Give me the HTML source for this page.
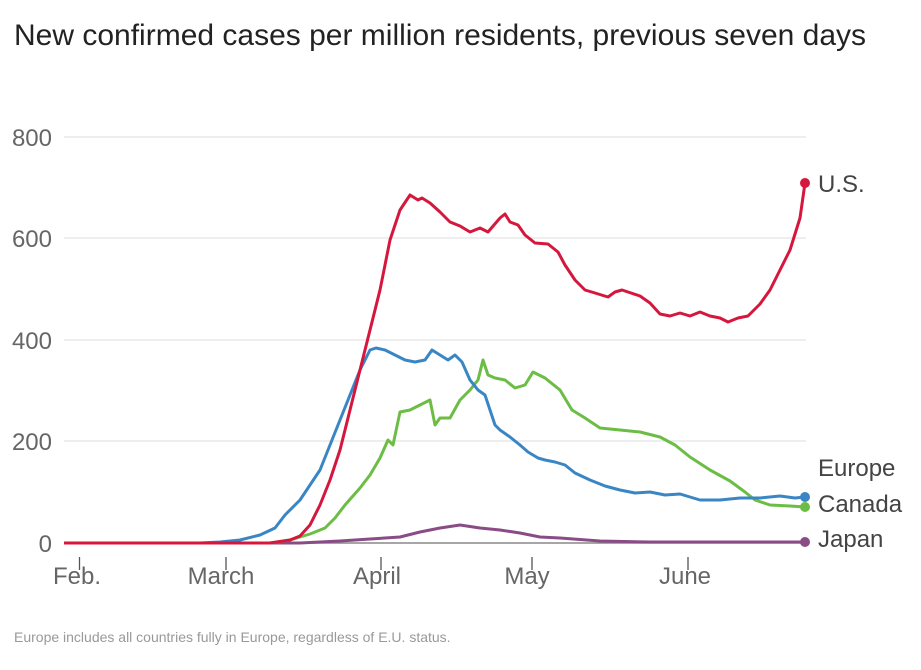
<!DOCTYPE html>
<html><head><style>
body{margin:0;background:#fff;}
svg text{font-family:"Liberation Sans",sans-serif;}
</style></head><body>
<svg width="921" height="665" xmlns="http://www.w3.org/2000/svg">
<text x="14" y="45" font-size="30" fill="#222">New confirmed cases per million residents, previous seven days</text>
<g stroke="#ddd" stroke-width="1">
<line x1="64" y1="137" x2="806" y2="137"/><line x1="64" y1="238" x2="806" y2="238"/><line x1="64" y1="340" x2="806" y2="340"/><line x1="64" y1="441" x2="806" y2="441"/>
</g>
<line x1="64" y1="543" x2="806" y2="543" stroke="#888" stroke-width="1.5"/>
<g fill="#666" font-size="24" text-anchor="end">
<text x="52" y="146">800</text><text x="52" y="247">600</text><text x="52" y="349">400</text><text x="52" y="450">200</text><text x="52" y="552">0</text>
</g>
<g stroke="#555" stroke-width="1.3">
<line x1="79.5" y1="557" x2="79.5" y2="570"/><line x1="226" y1="557" x2="226" y2="570"/><line x1="381" y1="557" x2="381" y2="570"/><line x1="532" y1="557" x2="532" y2="570"/><line x1="688" y1="557" x2="688" y2="570"/>
</g>
<g fill="#666" font-size="24" text-anchor="middle">
<text x="77" y="584">Feb.</text><text x="221" y="584">March</text><text x="377" y="584">April</text><text x="527" y="584">May</text><text x="685" y="584">June</text>
</g>
<g fill="none" stroke-width="3" stroke-linejoin="round">
<polyline stroke="#8a4c87" points="64,543 300,543 340,541 370,539 400,537 420,532 440,528 460,525 480,528 500,530 520,533 540,537 560,538 600,541 650,542 805,542"/>
<polyline stroke="#6cbd45" points="64,543 270,543 290,540 310,534 325,528 335,518 345,505 360,488 370,475 380,458 388,440 393,445 400,412 410,410 420,405 430,400 435,425 440,418 450,418 460,400 470,390 478,380 483,360 488,375 495,378 505,380 515,388 525,385 533,372 545,378 560,390 572,410 585,418 600,428 620,430 640,432 660,437 675,445 690,457 710,470 730,481 745,492 755,500 770,505 790,506 805,507"/>
<polyline stroke="#3a86c4" points="64,543 200,543 220,542 240,540 260,535 275,528 285,515 300,500 310,485 320,470 330,445 340,420 350,395 360,370 370,350 376,348 385,350 395,355 405,360 415,362 425,360 432,350 440,355 448,360 455,355 462,362 470,380 478,390 485,395 490,410 495,425 500,430 510,437 520,445 528,452 538,458 545,460 555,462 565,465 575,473 590,480 605,486 620,490 635,493 650,492 665,495 680,494 690,497 700,500 720,500 740,498 760,498 780,496 795,498 805,497"/>
<polyline stroke="#d6173d" points="64,543 270,543 290,540 300,536 310,525 320,505 330,480 340,450 350,410 360,370 370,330 380,290 390,240 400,210 410,195 418,200 422,198 430,203 440,212 450,222 460,226 470,232 480,228 488,232 500,218 505,214 510,222 518,225 525,235 535,243 548,244 558,252 565,265 575,280 585,290 595,293 608,297 615,292 622,290 628,292 640,296 650,303 660,314 670,316 680,313 690,316 700,312 710,316 720,318 728,322 738,318 748,316 760,304 770,290 780,270 790,250 800,218 805,183"/>
</g>
<circle cx="805" cy="183" r="5" fill="#d6173d"/>
<circle cx="805" cy="497" r="5" fill="#3a86c4"/>
<circle cx="805" cy="507" r="5" fill="#6cbd45"/>
<circle cx="805" cy="542" r="5" fill="#8a4c87"/>
<g fill="#444" font-size="24">
<text x="818" y="192">U.S.</text><text x="818" y="476">Europe</text><text x="818" y="512">Canada</text><text x="818" y="547">Japan</text>
</g>
<text x="14" y="642" font-size="14" fill="#999">Europe includes all countries fully in Europe, regardless of E.U. status.</text>
</svg>
</body></html>
